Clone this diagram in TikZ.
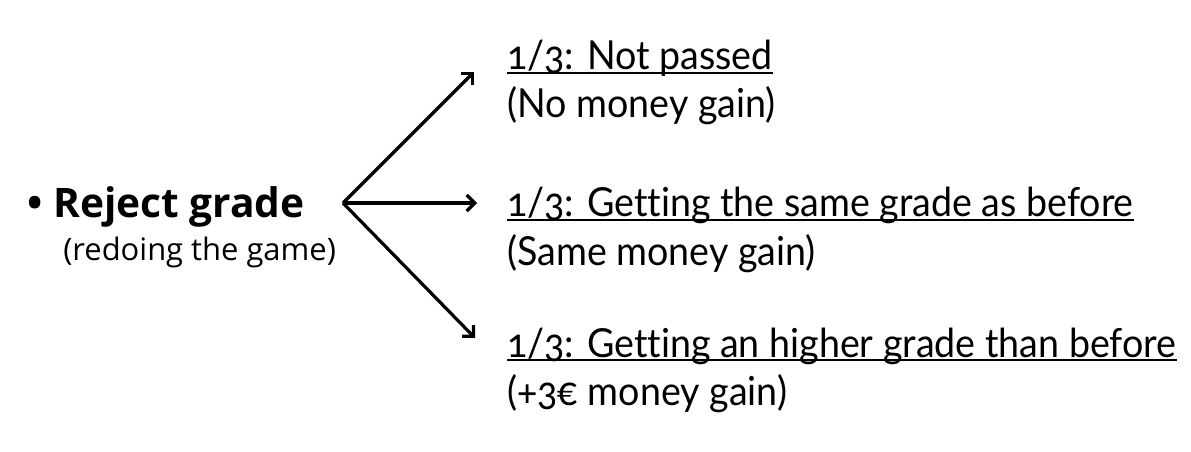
\documentclass[tikz,border=0pt]{standalone}
\usepackage{fontspec}
\usetikzlibrary{positioning,arrows.meta}
\newfontfamily\leftfont{Open Sans}
\newfontfamily\rightfont{Lato}[Numbers=OldStyle,Ligatures=CommonOff,FakeStretch=0.94]

\begin{document}
\begin{tikzpicture}[x=0.75pt,y=-0.75pt,
  >={Straight Barb[length=6pt,width=12pt,line width=2.4pt]},
  branch/.style={->, line width=2.4pt},
  choice/.style={anchor=base west, inner sep=0pt, font=\leftfont\bfseries\fontsize{30.5}{36}\selectfont},
  note/.style={anchor=base west, inner sep=0pt, font=\leftfont\fontsize{23.2}{28}\selectfont},
  outcome/.style={anchor=base west, inner sep=0pt, font=\rightfont\fontsize{30}{36}\selectfont},
  uline/.style={line width=1.5pt}]
\useasboundingbox (0,0) rectangle (1191,452);

% the rejected grade
\node [choice] (reject) at (27,218) {\textbullet\hspace{8pt}Reject grade};
\node [note] (redo) at (63,260) {(redoing the game)};

% fork point and arrow ends
\coordinate (fork) at (343,203);
\coordinate (tipA) at (474,72);
\coordinate (tipB) at (477,203);
\coordinate (tipC) at (475,338);

\foreach \t in {tipA,tipB,tipC}
  \draw [branch] (fork) -- (\t);

% the three outcomes
\node [outcome] (notpassed) at (507,70) {1/3: Not passed};
\node [outcome] (nogain) at (507,118) {(No money gain)};
\node [outcome] (same) at (507,217) {1/3: Getting the same grade as before\ };
\node [outcome] (samegain) at (507,265) {(Same money gain)};
\node [outcome] (higher) at (507,357) {1/3: Getting an higher grade than before\ };
\node [outcome] (moregain) at (507,405) {(+3€ money gain)};

% underlines
\foreach \n in {notpassed,same,higher}
  \draw [uline] ([yshift=-2.5pt]\n.base west) -- ([yshift=-2.5pt]\n.base east);

\end{tikzpicture}
\end{document}
